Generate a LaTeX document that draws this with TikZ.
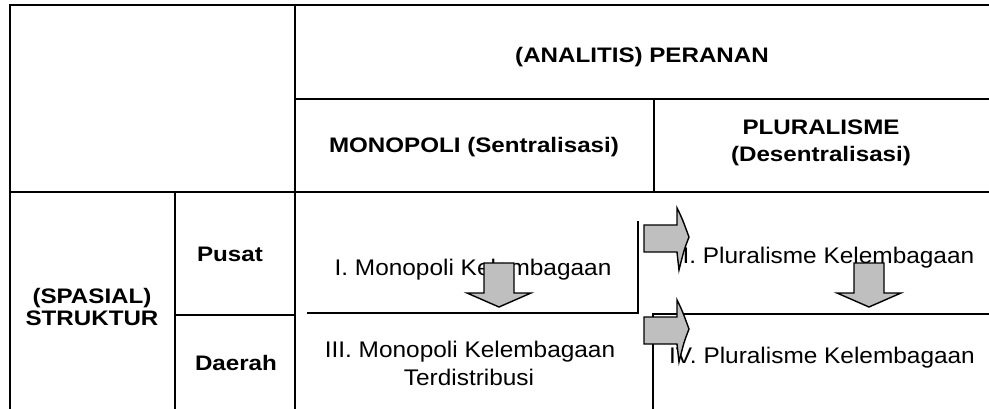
\documentclass[tikz,border=0pt]{standalone}
\usepackage{fontspec}
\setmainfont{Liberation Sans}[FakeStretch=1.08, BoldFeatures={FakeStretch=1.15}]
\begin{document}
\begin{tikzpicture}[x=1pt,y=-1pt,
  grid/.style={line width=2pt, line cap=rect},
  hdr/.style={font=\fontsize{21}{27}\selectfont\bfseries, inner sep=0pt, anchor=base},
  cell/.style={font=\fontsize{22.6}{30}\selectfont, inner sep=0pt, anchor=base},
  blockarrow/.style={fill=black!25, draw=black, line width=1.4pt, line join=miter}]
\useasboundingbox (0,0) rectangle (989,408);

% grid lines
\draw[grid] (10,5) -- (989,5);
\draw[grid] (10,5) -- (10,410);
\draw[grid] (295,5) -- (295,410);
\draw[grid] (295,99) -- (989,99);
\draw[grid] (10,192) -- (989,192);
\draw[grid] (654,99) -- (654,192);
\draw[grid] (175,192) -- (175,410);
\draw[grid] (175,315) -- (295,315);
\draw[grid] (308,313) -- (638,313) -- (638,222);
\draw[grid] (989,314) -- (653,314) -- (653,410);

% texts
\node[hdr] (peranan) at (642,62.5) {(ANALITIS) PERANAN};
\node[hdr] (mono) at (474,152.5) {MONOPOLI (Sentralisasi)};
\node[hdr] (plura1) at (821,134) {PLURALISME};
\node[hdr] (plura2) at (821,161) {(Desentralisasi)};
\node[hdr] (spas1) at (92,303) {(SPASIAL)};
\node[hdr] (spas2) at (92,325) {STRUKTUR};
\node[hdr] (pusat) at (230,261) {Pusat};
\node[hdr] (daerah) at (236,370) {Daerah};
\node[cell] (c1) at (473,275) {I. Monopoli Kelembagaan};
\node[cell] (c3a) at (470,357) {III. Monopoli Kelembagaan};
\node[cell] (c3b) at (469,385) {Terdistribusi};
\node[cell] (c2) at (825,263) {II. Pluralisme Kelembagaan};
\node[cell] (c4) at (822,363) {IV. Pluralisme Kelembagaan};

% block arrows (right)
\foreach \dy in {0,92}{
  \draw[blockarrow] (644,225+\dy) -- (677,225+\dy) -- (677,208+\dy)
    .. controls (682,218+\dy) .. (689,237+\dy)
    .. controls (684,250+\dy) .. (679,270+\dy)
    -- (677,252+\dy) -- (644,252+\dy) -- cycle;
}
% block arrows (down)
\foreach \cx in {499,869}{
  \draw[blockarrow] (\cx-15,263) -- (\cx+15,263) -- (\cx+15,293) -- (\cx+32,293)
    -- (\cx,307) -- (\cx-32,293) -- (\cx-15,293) -- cycle;
}
\end{tikzpicture}
\end{document}
